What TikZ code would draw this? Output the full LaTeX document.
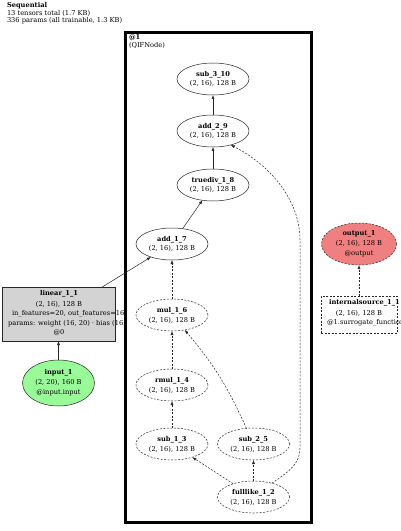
\documentclass[tikz,border=0pt]{standalone}
\usepackage{fontspec}
\setmainfont{DejaVu Serif}
\usetikzlibrary{shapes.geometric,arrows.meta}
\definecolor{lingray}{RGB}{211,211,211}
\definecolor{ingreen}{RGB}{152,251,152}
\definecolor{outred}{RGB}{240,128,128}
\begin{document}
\begin{tikzpicture}[x=1bp,y=-1bp,
  every node/.style={font=\fontsize{6.7}{10}\selectfont, inner sep=0pt, outer sep=0pt},
  op/.style={ellipse, draw=black!85, line width=0.5bp, minimum width=72bp, minimum height=32bp, align=center},
  opd/.style={op, dash pattern=on 2bp off 1.5bp},
  edge/.style={draw=black!85, line width=0.5bp, -{Latex[length=4bp,width=3bp]}},
  edged/.style={edge, dash pattern=on 2bp off 1.5bp},
  txt/.style={anchor=west}
]
\useasboundingbox (0,0) rectangle (400,531);

% header
\node[txt] (h1) at (7,6) {\textbf{Sequential}};
\node[txt] (h2) at (7,13.5) {13 tensors total (1.7 KB)};
\node[txt] (h3) at (7,21) {336 params (all trainable, 1.3 KB)};

% linear box (text overflows, covered by cluster)
\node[draw=black!85, fill=lingray, line width=0.5bp, minimum width=113bp, minimum height=54bp] (lin) at (58.5,314) {};
\node (lt1) at (59,294) {\textbf{linear\_1\_1}};
\node (lt2) at (59,304) {(2, 16), 128 B};
\node[txt] (lt3) at (12,313.5) {in\_features=20, out\_features=16};
\node[txt] (lt4) at (8,323.5) {params: weight (16, 20) · bias (16,)};
\node (lt5) at (59,333) {@0};

% cluster
\node[draw=black, line width=3bp, fill=white, minimum width=186bp, minimum height=489bp] (clu) at (218,277.5) {};
\node[txt] (cl1) at (129,37.5) {\textbf{@1}};
\node[txt] (cl2) at (129,45.5) {(QIFNode)};

% ops
\node[op] (sub310) at (213,79) {\textbf{sub\_3\_10}\\(2, 16), 128 B};
\node[op] (add29) at (213,131) {\textbf{add\_2\_9}\\(2, 16), 128 B};
\node[op] (truediv) at (213,185) {\textbf{truediv\_1\_8}\\(2, 16), 128 B};
\node[op] (add17) at (172,244) {\textbf{add\_1\_7}\\(2, 16), 128 B};
\node[opd] (mul16) at (172,315) {\textbf{mul\_1\_6}\\(2, 16), 128 B};
\node[opd] (rmul14) at (172,385) {\textbf{rmul\_1\_4}\\(2, 16), 128 B};
\node[opd] (sub13) at (172,444) {\textbf{sub\_1\_3}\\(2, 16), 128 B};
\node[opd] (sub25) at (253.5,444) {\textbf{sub\_2\_5}\\(2, 16), 128 B};
\node[opd] (full) at (253.5,497) {\textbf{fulllike\_1\_2}\\(2, 16), 128 B};

% input / output
\node[op, fill=ingreen, minimum width=72bp, minimum height=46bp] (inp) at (58.5,383) {\textbf{input\_1}\\(2, 20), 160 B\\@input.input};
\node[opd, fill=outred, minimum width=75bp, minimum height=42bp] (out) at (359,244) {\textbf{output\_1}\\(2, 16), 128 B\\@output};

% internal source
\node[draw=black!85, line width=0.5bp, dash pattern=on 2bp off 1.5bp, minimum width=76bp, minimum height=37bp] (isrc) at (359,314.5) {};
\node[txt] (is1) at (329,303) {\textbf{internalsource\_1\_1}};
\node (is2) at (359,313) {(2, 16), 128 B};
\node[txt] (is3) at (327,323) {@1.surrogate\_function};

% edges
\draw[edge] (inp) -- (lin);
\draw[edge] (lin) -- (add17);
\draw[edge] (add17) -- (truediv);
\draw[edge] (truediv) -- (add29);
\draw[edge] (add29) -- (sub310);
\draw[edged] (mul16) -- (add17);
\draw[edged] (rmul14) -- (mul16);
\draw[edged] (sub13) -- (rmul14);
\draw[edged] (sub25) to[bend right=8] (mul16);
\draw[edged] (full) -- (sub13);
\draw[edged] (full) -- (sub25);
\draw[edged] (full.37) .. controls (292,470) and (300,462) .. (300,448) -- (300,240) .. controls (300,200) and (270,165) .. (add29.-38);
\draw[edged] (isrc) -- (out);
\end{tikzpicture}
\end{document}
